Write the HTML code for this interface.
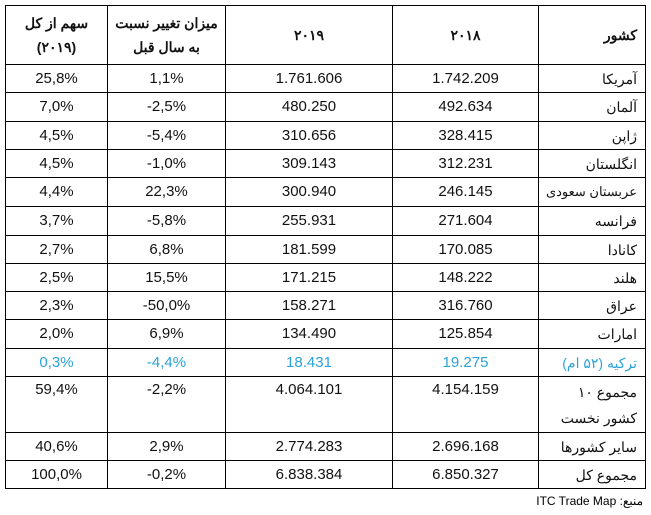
<!DOCTYPE html>
<html><head><meta charset="utf-8"><style>
body{margin:0;background:#fff;width:651px;height:515px;overflow:hidden;font-family:"Liberation Sans","Noto Sans CJK SC",sans-serif}
table{position:absolute;left:5px;top:5px;border-collapse:collapse;direction:rtl}
td{border:1.3px solid #000;text-align:center;font-size:15px;color:#111;padding:0;vertical-align:middle;line-height:18px;white-space:nowrap}
td.n{direction:ltr;unicode-bidi:isolate}
.h td{font-weight:bold;font-size:14px;line-height:24px}
.t td{color:#2ba3d8}
.c{text-align:right;padding-right:8px;font-size:14px}
.src{position:absolute;right:8px;top:494px;font-size:12px;direction:rtl}
</style></head><body>
<table>
<colgroup><col style="width:107px"><col style="width:146px"><col style="width:167px"><col style="width:118px"><col style="width:102px"></colgroup>
<tr class="h" style="height:59px"><td class="c">کشور</td><td>۲۰۱۸</td><td>۲۰۱۹</td><td>میزان تغییر نسبت<br>به سال قبل</td><td>سهم از کل<br>(۲۰۱۹)</td></tr>
<tr style="height:28px"><td class="c">آمریکا</td><td class="n">1.742.209</td><td class="n">1.761.606</td><td class="n">1,1%</td><td class="n">25,8%</td></tr>
<tr style="height:29px"><td class="c">آلمان</td><td class="n">492.634</td><td class="n">480.250</td><td class="n">-2,5%</td><td class="n">7,0%</td></tr>
<tr style="height:28px"><td class="c">ژاپن</td><td class="n">328.415</td><td class="n">310.656</td><td class="n">-5,4%</td><td class="n">4,5%</td></tr>
<tr style="height:28px"><td class="c">انگلستان</td><td class="n">312.231</td><td class="n">309.143</td><td class="n">-1,0%</td><td class="n">4,5%</td></tr>
<tr style="height:29px"><td class="c" style="font-size:13px">عربستان سعودی</td><td class="n">246.145</td><td class="n">300.940</td><td class="n">22,3%</td><td class="n">4,4%</td></tr>
<tr style="height:29px"><td class="c">فرانسه</td><td class="n">271.604</td><td class="n">255.931</td><td class="n">-5,8%</td><td class="n">3,7%</td></tr>
<tr style="height:28px"><td class="c">کانادا</td><td class="n">170.085</td><td class="n">181.599</td><td class="n">6,8%</td><td class="n">2,7%</td></tr>
<tr style="height:28px"><td class="c">هلند</td><td class="n">148.222</td><td class="n">171.215</td><td class="n">15,5%</td><td class="n">2,5%</td></tr>
<tr style="height:28px"><td class="c">عراق</td><td class="n">316.760</td><td class="n">158.271</td><td class="n">-50,0%</td><td class="n">2,3%</td></tr>
<tr style="height:29px"><td class="c">امارات</td><td class="n">125.854</td><td class="n">134.490</td><td class="n">6,9%</td><td class="n">2,0%</td></tr>
<tr class="t" style="height:28px"><td class="c">ترکیه (۵۲ ام)</td><td class="n">19.275</td><td class="n">18.431</td><td class="n">-4,4%</td><td class="n">0,3%</td></tr>
<tr style="height:56px"><td class="c" style="line-height:26px">مجموع ۱۰<br>کشور نخست</td><td class="n" style="vertical-align:top;padding-top:4px">4.154.159</td><td class="n" style="vertical-align:top;padding-top:4px">4.064.101</td><td class="n" style="vertical-align:top;padding-top:4px">-2,2%</td><td class="n" style="vertical-align:top;padding-top:4px">59,4%</td></tr>
<tr style="height:28px"><td class="c">سایر کشورها</td><td class="n">2.696.168</td><td class="n">2.774.283</td><td class="n">2,9%</td><td class="n">40,6%</td></tr>
<tr style="height:28px"><td class="c">مجموع کل</td><td class="n">6.850.327</td><td class="n">6.838.384</td><td class="n">-0,2%</td><td class="n">100,0%</td></tr>
</table>
<div class="src">منبع: ITC Trade Map</div>
</body></html>
